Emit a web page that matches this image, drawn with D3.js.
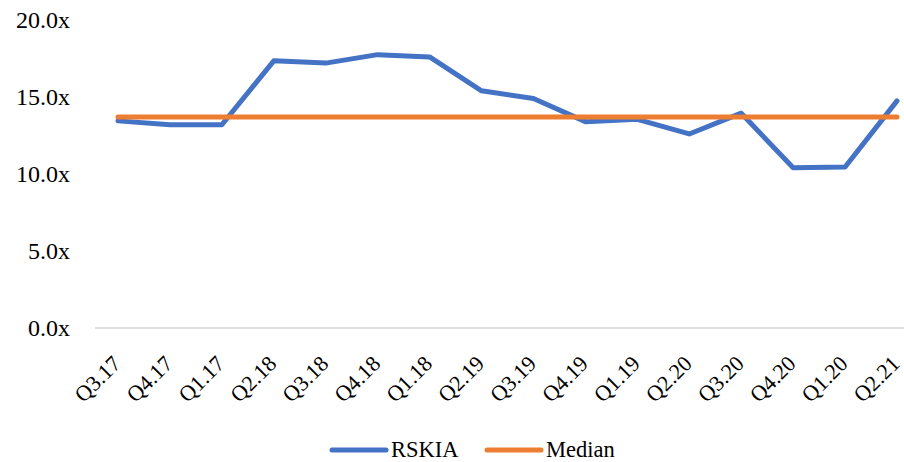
<!DOCTYPE html>
<meta charset="utf-8">
<title>RSKIA multiple</title>
<script src="https://d3js.org/d3.v7.min.js"></script>
<style>
  body { margin: 0; background: #fff; }
  text { font-family: "Liberation Serif", "DejaVu Serif", serif; fill: #000; }
</style>
<body>
</body>
<script>
var quarters = ["Q3.17", "Q4.17", "Q1.17", "Q2.18", "Q3.18", "Q4.18", "Q1.18", "Q2.19",
                "Q3.19", "Q4.19", "Q1.19", "Q2.20", "Q3.20", "Q4.20", "Q1.20", "Q2.21"];
var rskia = [13.45, 13.2, 13.2, 17.35, 17.2, 17.75, 17.6, 15.4,
             14.9, 13.4, 13.55, 12.6, 13.95, 10.4, 10.45, 14.75];
var medianValue = 13.7;
var median = quarters.map(function () { return medianValue; });
var yTicks = [0, 5, 10, 15, 20];

var width = 904, height = 462;

var svg = d3.select("body").append("svg")
            .attr("width", width)
            .attr("height", height);

var x = d3.scalePoint()
          .domain(quarters)
          .range([118, 897]);

var y = d3.scaleLinear()
          .domain([0, 20])
          .range([328, 20]);

// y labels (no axis line, no gridlines)
svg.append("g")
   .selectAll("text")
   .data(yTicks)
   .enter()
   .append("text")
   .attr("x", 70)
   .attr("y", function (d) { return y(d); })
   .attr("dy", "0.35em")
   .attr("text-anchor", "end")
   .style("font-size", "24px")
   .text(function (d) { return d.toFixed(1) + "x"; });

// category axis line
svg.append("line")
   .attr("x1", 95)
   .attr("x2", width)
   .attr("y1", y(0))
   .attr("y2", y(0))
   .attr("stroke", "#d9d9d9")
   .attr("stroke-width", 1.5);

// x labels, rotated
svg.append("g")
   .selectAll("text")
   .data(quarters)
   .enter()
   .append("text")
   .attr("text-anchor", "end")
   .attr("transform", function (d) { return "translate(" + (x(d) + 4) + "," + 365 + ") rotate(-45)"; })
   .style("font-size", "22px")
   .text(function (d) { return d; });

var line = d3.line()
             .x(function (d, i) { return x(quarters[i]); })
             .y(function (d) { return y(d); });

svg.append("path")
   .datum(rskia)
   .attr("d", line)
   .attr("fill", "none")
   .attr("stroke", "#4472c4")
   .attr("stroke-width", 5)
   .attr("stroke-linejoin", "round")
   .attr("stroke-linecap", "round");

svg.append("path")
   .datum(median)
   .attr("d", line)
   .attr("fill", "none")
   .attr("stroke", "#ed7d31")
   .attr("stroke-width", 5)
   .attr("stroke-linecap", "round");

// legend
var legendItems = [
  {name: "RSKIA", color: "#4472c4", x: 332},
  {name: "Median", color: "#ed7d31", x: 487}
];
var legend = svg.append("g")
                .selectAll("g")
                .data(legendItems)
                .enter()
                .append("g")
                .attr("transform", function (d) { return "translate(" + d.x + ",450)"; });
legend.append("line")
      .attr("x1", 0)
      .attr("x2", 54)
      .attr("stroke", function (d) { return d.color; })
      .attr("stroke-width", 5)
      .attr("stroke-linecap", "round");
legend.append("text")
      .attr("x", 59)
      .attr("dy", "0.33em")
      .style("font-size", "22.5px")
      .text(function (d) { return d.name; });
</script>
